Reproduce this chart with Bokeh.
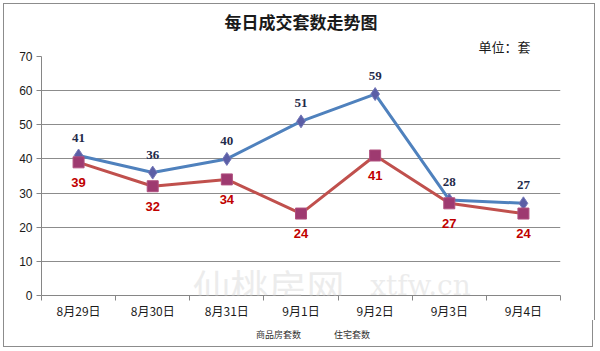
from bokeh.plotting import figure
from bokeh.layouts import column
from bokeh.models import (FixedTicker, Range1d, Label, Legend, LegendItem,
                          ColumnDataSource, Title)
from bokeh.core.properties import value
from bokeh.embed import file_html
from bokeh.resources import INLINE

categories = ["8月29日", "8月30日", "8月31日", "9月1日", "9月2日", "9月3日", "9月4日"]
commercial = [41, 36, 40, 51, 59, 28, 27]   # 商品房套数
residential = [39, 32, 34, 24, 41, 27, 24]  # 住宅套数
series_names = ["商品房套数", "住宅套数"]
y_ticks = [0, 10, 20, 30, 40, 50, 60, 70]

xs = [i + 0.5 for i in range(len(categories))]

BORDER = "1px solid #8c8c8c"
BLUE, RED = "#4F81BD", "#C0504D"
DIAMOND_FILL, DIAMOND_LINE = "#5B5EA6", "#7478B8"
SQUARE_FILL, SQUARE_LINE = "#9E3A70", "#B0507F"

p = figure(frame_width=517, frame_height=238, output_backend="svg",
           toolbar_location=None,
           x_range=Range1d(0, len(categories)), y_range=Range1d(0, 70),
           min_border_left=37, min_border_right=36, min_border_top=52,
           min_border_bottom=26,
           styles={"border-top": BORDER, "border-left": BORDER,
                   "border-right": BORDER, "margin-left": "3px",
                   "margin-top": "3px"})
p.title = None
p.background_fill_color = "white"
p.border_fill_color = "white"
p.outline_line_color = None

# axes
p.xaxis.ticker = FixedTicker(ticks=xs, minor_ticks=list(range(len(categories) + 1)))
p.xaxis.major_label_overrides = {x: c for x, c in zip(xs, categories)}
p.xaxis.major_tick_line_color = None
p.xaxis.major_tick_out = 0
p.xaxis.major_tick_in = 0
p.xaxis.minor_tick_in = 0
p.xaxis.minor_tick_out = 5
p.xaxis.minor_tick_line_color = "#868686"
p.xaxis.axis_line_color = "#868686"
p.xaxis.major_label_text_font = "Noto Sans CJK SC"
p.xaxis.major_label_text_font_size = "12px"
p.xaxis.major_label_text_color = "#1a1a1a"
p.xaxis.major_label_standoff = 1

p.yaxis.ticker = FixedTicker(ticks=y_ticks)
p.yaxis.minor_tick_line_color = None
p.yaxis.major_tick_in = 0
p.yaxis.major_tick_out = 5
p.yaxis.major_tick_line_color = "#868686"
p.yaxis.axis_line_color = "#868686"
p.yaxis.major_label_text_font = "Liberation Sans"
p.yaxis.major_label_text_font_size = "12px"
p.yaxis.major_label_text_color = "#1a1a1a"
p.yaxis.major_label_standoff = 4

p.xgrid.grid_line_color = None
p.ygrid.ticker = FixedTicker(ticks=y_ticks)
p.ygrid.grid_line_color = "#8c8c8c"
p.ygrid.grid_line_width = 1

src = ColumnDataSource(dict(x=xs, c=commercial, r=residential,
                            cl=[str(v) for v in commercial],
                            rl=[str(v) for v in residential]))

p.line("x", "c", source=src, line_color=BLUE, line_width=3)
p.scatter("x", "c", source=src, marker="diamond", size=13,
          fill_color=DIAMOND_FILL, line_color=DIAMOND_LINE)
p.line("x", "r", source=src, line_color=RED, line_width=3)
p.scatter("x", "r", source=src, marker="square", size=11,
          fill_color=SQUARE_FILL, line_color=SQUARE_LINE)

p.text("x", "c", text="cl", source=src, y_offset=-18, text_align="center",
       text_baseline="middle", text_font=value("Liberation Serif"),
       text_font_style="bold", text_font_size="13px", text_color="#1F2A4A")
p.text("x", "r", text="rl", source=src, y_offset=20, text_align="center",
       text_baseline="middle", text_font=value("Liberation Sans"),
       text_font_style="bold", text_font_size="13px", text_color="#C00000")

p.add_layout(Title(text="单位：套", align="right", offset=30,
                   text_font="Noto Sans CJK SC", text_font_size="13px",
                   text_font_style="normal", text_color="#1a1a1a",
                   standoff=2), "above")
p.add_layout(Title(text="每日成交套数走势图", align="center",
                   text_font="Noto Sans CJK SC", text_font_size="17px",
                   text_font_style="bold", text_color="#1a1a1a",
                   standoff=0), "above")

# watermark (frame-relative screen coordinates)
p.add_layout(Label(x=227, y=10, x_units="screen", y_units="screen",
                   text="仙桃房网", text_align="center", text_baseline="middle",
                   text_font="Noto Sans CJK SC", text_font_size="38px",
                   text_color="#dddddd", text_alpha=0.55))
p.add_layout(Label(x=379, y=10, x_units="screen", y_units="screen",
                   text="xtfw.cn", text_align="center", text_baseline="middle",
                   text_font="DejaVu Serif", text_font_size="28px",
                   text_color="#dddddd", text_alpha=0.55))

# legend strip under the chart (separate small figure, same frame box)
lg = figure(width=590, height=27, output_backend="svg", toolbar_location=None,
            x_axis_location=None, y_axis_location=None, min_border=0,
            x_range=Range1d(0, 1), y_range=Range1d(0, 1),
            styles={"border-left": BORDER, "border-right": BORDER,
                    "border-bottom": BORDER, "margin-left": "3px"})
lg.title = None
lg.outline_line_color = None
lg.xgrid.grid_line_color = None
lg.ygrid.grid_line_color = None
empty = ColumnDataSource(dict(x=[], y=[]))
a1 = lg.line("x", "y", source=empty, line_color=BLUE, line_width=3)
b1 = lg.scatter("x", "y", source=empty, marker="diamond", size=9,
                fill_color=DIAMOND_FILL, line_color=DIAMOND_LINE)
a2 = lg.line("x", "y", source=empty, line_color=RED, line_width=3)
b2 = lg.scatter("x", "y", source=empty, marker="square", size=8,
                fill_color=SQUARE_FILL, line_color=SQUARE_LINE)
legend = Legend(items=[LegendItem(label=series_names[0], renderers=[a1, b1]),
                       LegendItem(label=series_names[1], renderers=[a2, b2])],
                orientation="horizontal", location="center_left",
                label_text_font="Noto Sans CJK SC", label_text_font_size="9px",
                label_text_color="#333333", glyph_width=22, glyph_height=10,
                label_height=12, spacing=7, padding=0, margin=189,
                label_standoff=4, border_line_color=None,
                background_fill_alpha=0)
lg.add_layout(legend, "center")

layout = column(p, lg, spacing=0)
open("out.html", "w").write(file_html(layout, INLINE))
